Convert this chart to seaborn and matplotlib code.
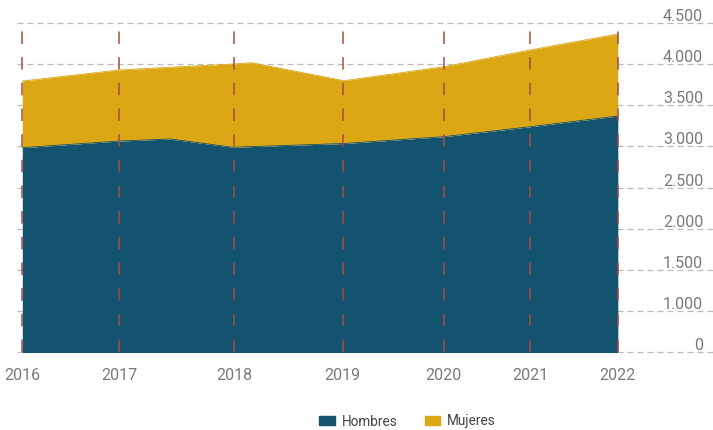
import numpy as np
import pandas as pd
import matplotlib
matplotlib.use("Agg")
import matplotlib.pyplot as plt
import matplotlib.transforms as mtransforms
import seaborn as sns

# ----------------- Data -----------------
# time position of each point (years since 2016, as laid out in the source chart)
t = [0.0, 0.974, 1.49, 2.12, 2.31, 3.24, 4.246, 5.115, 6.0]
hombres = [2985, 3066, 3091, 2990, 2998, 3036, 3119, 3240, 3371]
mujeres = [812, 865, 874, 1014, 1022, 765, 852, 935, 999]

years = ["2016", "2017", "2018", "2019", "2020", "2021", "2022"]
year_t = [0.0, 0.974, 2.136, 3.228, 4.246, 5.115, 6.0]

y_ticks = [500, 1000, 1500, 2000, 2500, 3000, 3500, 4000, 4500]
y_labels = ["0", "1.000", "1.500", "2.000", "2.500", "3.000", "3.500", "4.000", "4.500"]

# ----------------- Style -----------------
sns.set_theme(style="white")
plt.rcParams["font.family"] = ["Roboto", "DejaVu Sans"]
colors = {"Hombres": "#14536f", "Mujeres": "#dba715"}
text_color = "#7a7a7a"

df = pd.DataFrame({"t": t, "Hombres": hombres, "Mujeres": mujeres})
df["top_h"] = df["Hombres"]
df["top_m"] = df["Hombres"] + df["Mujeres"]

fig = plt.figure(figsize=(7.13, 4.30), dpi=100)
ax = fig.add_axes([17 / 713, (430 - 351.7) / 430, 696 / 713, 328.4 / 430])
ax.set_xlim((17 - 22.3) / 99.25, (713 - 22.3) / 99.25)
ax.set_ylim(500, 4500)

# grey dashed grid lines under the areas
for v in y_ticks:
    ax.axhline(v, color="#bbbbbb", lw=0.9, dashes=(4.8, 3.2), zorder=0, clip_on=False)

# stacked areas
ax.fill_between(df["t"], 0, df["top_h"], color=colors["Hombres"], lw=0, zorder=2)
ax.fill_between(df["t"], df["top_h"], df["top_m"], color=colors["Mujeres"], lw=0, zorder=2)
sns.lineplot(x=df["t"], y=df["top_h"], color=colors["Hombres"], lw=0.6, zorder=3, ax=ax, legend=False)
sns.lineplot(x=df["t"], y=df["top_m"], color=colors["Mujeres"], lw=0.6, zorder=3, ax=ax, legend=False)

# red dashed year markers
for xt in year_t:
    ax.axvline(xt, color="#a84b44", lw=1.1, dashes=(8.2, 8.6), zorder=4, clip_on=False)

# axes
sns.despine(ax=ax, left=True, bottom=True, top=True, right=True)
ax.set_xticks(year_t, years)
ax.tick_params(axis="x", length=0, pad=12, labelsize=11.5, labelcolor=text_color)
ax.set_yticks([])
ax.set_xlabel("")
ax.set_ylabel("")

lab_tr = mtransforms.offset_copy(ax.get_yaxis_transform(), fig=fig, y=2, units="dots")
for v, s in zip(y_ticks, y_labels):
    ax.text(686 / 696, v, s, transform=lab_tr, ha="right", va="baseline",
            fontsize=11.5, color=text_color, zorder=5)

# legend
handles = [plt.Rectangle((0, 0), 1, 1, color=colors[k]) for k in ["Hombres", "Mujeres"]]
leg = fig.legend(handles, ["Hombres", "Mujeres"], loc="center", bbox_to_anchor=(407.5 / 713, 8.5 / 430),
                 ncol=2, frameon=False, fontsize=9.8, handlelength=1.15, handleheight=0.6,
                 handletextpad=0.5, columnspacing=2.0, borderpad=0, borderaxespad=0)
for txt in leg.get_texts():
    txt.set_color("#444444")

fig.savefig("out.png", dpi=100)
plt.close(fig)
